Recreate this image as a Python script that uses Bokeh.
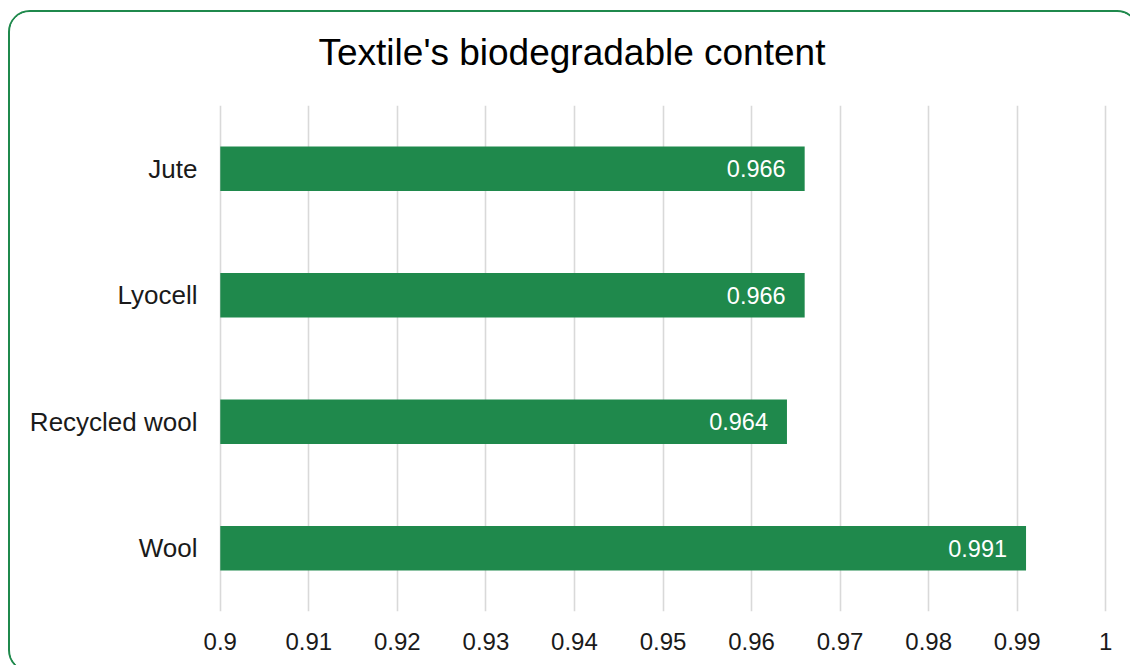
from bokeh.plotting import figure
from bokeh.models import ColumnDataSource, FactorRange, Range1d, FixedTicker, LabelSet
from bokeh.core.properties import value
from bokeh.embed import file_html
from bokeh.resources import INLINE

# Data
materials = ["Jute", "Lyocell", "Recycled wool", "Wool"]
biodegradable = [0.966, 0.966, 0.964, 0.991]
value_labels = ["0.966", "0.966", "0.964", "0.991"]
tick_values = [0.9, 0.91, 0.92, 0.93, 0.94, 0.95, 0.96, 0.97, 0.98, 0.99, 1.0]
tick_labels = ["0.9", "0.91", "0.92", "0.93", "0.94", "0.95", "0.96", "0.97", "0.98", "0.99", "1"]
title_text = "Textile's biodegradable content"

GREEN = "#1f894c"
FONT = "Liberation Sans"

source = ColumnDataSource(dict(material=materials, value=biodegradable,
                               label=value_labels, base=[tick_values[0]] * len(materials)))

W, H = 1127, 658
BL, BR, BT, BB = 208, 34, 93, 63

# tiny pad so the first and last grid lines are not clipped by the frame
pad = 0.0002
p = figure(width=W, height=H,
           y_range=FactorRange(factors=list(reversed(materials)), range_padding=0),
           x_range=Range1d(tick_values[0] - pad, tick_values[-1] + pad),
           output_backend="svg", toolbar_location=None,
           min_border_left=BL, min_border_right=BR,
           min_border_top=BT, min_border_bottom=BB)

# rounded green card around the chart
p.styles = {"border": f"2px solid {GREEN}", "border-radius": "22px",
            "box-sizing": "content-box", "margin-left": "8px", "margin-top": "10px",
            "overflow": "hidden"}

p.title.text = title_text
p.title.align = "left"
p.title.offset = 100
p.title.text_font = FONT
p.title.text_font_size = "37px"
p.title.text_font_style = "normal"
p.title.text_color = "#000000"
p.title.standoff = 0
p.title.padding = dict(top=0, right=0, bottom=33, left=0)

p.hbar(y="material", left="base", right="value", height=0.35, source=source,
       fill_color=GREEN, line_color=None)

labels = LabelSet(x="value", y="material", text="label", source=source,
                  text_align="right", text_baseline="middle", x_offset=-19,
                  text_color="white", text_font=value(FONT), text_font_size="23.5px")
p.add_layout(labels)

p.outline_line_color = None
p.background_fill_color = "white"
p.border_fill_color = "white"

p.xaxis.ticker = FixedTicker(ticks=tick_values)
p.xaxis.major_label_overrides = dict(zip(tick_values, tick_labels))
p.xaxis.axis_line_color = None
p.xaxis.major_tick_line_color = None
p.xaxis.minor_tick_line_color = None
p.xaxis.major_tick_out = 0
p.xaxis.major_label_standoff = 21
p.xaxis.major_label_text_font = FONT
p.xaxis.major_label_text_font_size = "24px"
p.xaxis.major_label_text_color = "#1a1a1a"

p.yaxis.axis_line_color = None
p.yaxis.major_tick_line_color = None
p.yaxis.major_tick_out = 0
p.yaxis.major_label_standoff = 21
p.yaxis.major_label_text_font = FONT
p.yaxis.major_label_text_font_size = "26px"
p.yaxis.major_label_text_color = "#1a1a1a"

p.xgrid.grid_line_color = "#d9d9d9"
p.xgrid.grid_line_width = 1.6
p.ygrid.grid_line_color = None

open("out.html", "w").write(file_html(p, INLINE))
